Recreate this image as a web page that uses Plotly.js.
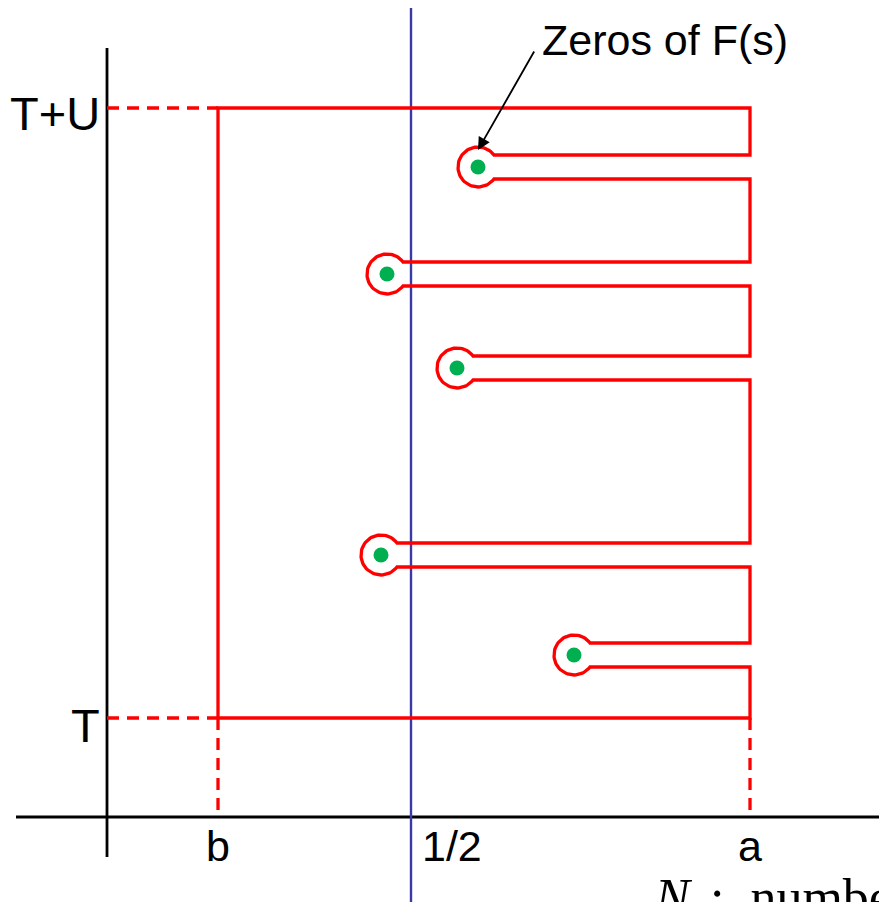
<!DOCTYPE html>
<html>
<head>
<meta charset="utf-8">
<script src="https://cdn.plot.ly/plotly-3.0.1.min.js"></script>
<style>html,body{margin:0;padding:0;background:#fff;overflow:hidden}#chart{width:879px;height:902px}</style>
</head>
<body>
<div id="chart"></div>
<script>
// ---- data (diagram coordinates; y grows downward) ----
const zerosX = [478, 387, 457, 381, 574];   // real parts of the zeros of F(s)
const zerosY = [167, 274, 368, 555, 655];   // imaginary parts (screen-down)
const xLabels = ["b", "1/2", "a"];
const xLabelPos = [218, 411, 750];
const yLabels = ["T+U", "T"];
const yLabelPos = [108, 718];
const originX = 107, originY = 817;          // axes origin
const xB = 218, xHalf = 411, xA = 750;
const yTop = 108, yBot = 718;

// ---- geometry of the contour ----
const R = 20, gap = 12;
const cx = [], cy = [];
function pt(x, y){ cx.push(x); cy.push(y); }
pt(xB, yBot); pt(xB, yTop); pt(xA, yTop);
const order = zerosY.map((v,i)=>i).sort((a,b)=>zerosY[a]-zerosY[b]);
const th0 = Math.asin(gap / R);
for (const i of order) {
  const zx = zerosX[i], zy = zerosY[i];
  const off = Math.sqrt(R*R - gap*gap);
  pt(xA, zy - gap); pt(zx + off, zy - gap);
  const start = -th0, end = -(2*Math.PI - th0);
  const n = 60;
  for (let k = 0; k <= n; k++) {
    const t = start + (end - start) * k / n;
    pt(zx + R*Math.cos(t), zy + R*Math.sin(t));
  }
  pt(zx + off, zy + gap); pt(xA, zy + gap);
}
pt(xA, yBot); pt(xB, yBot);

const red = "#ff0000";
const traces = [
  // axes
  {x:[originX, originX], y:[48, 857], mode:"lines", line:{color:"#000", width:2.8}},
  {x:[16, 879], y:[originY, originY], mode:"lines", line:{color:"#000", width:2.8}},
  // critical line
  {x:[xHalf, xHalf], y:[8, 902], mode:"lines", line:{color:"#3a3aa6", width:2.4}},
  // dashed guides
  {x:[originX, xB], y:[yTop, yTop], mode:"lines", line:{color:red, width:3.3, dash:"12px,8px"}},
  {x:[originX, xB], y:[yBot, yBot], mode:"lines", line:{color:red, width:3.3, dash:"12px,8px"}},
  {x:[xB, xB], y:[yBot, originY], mode:"lines", line:{color:red, width:3.3, dash:"12px,8px"}},
  {x:[xA, xA], y:[yBot, originY], mode:"lines", line:{color:red, width:3.3, dash:"12px,8px"}},
  // contour
  {x:cx, y:cy, mode:"lines", line:{color:red, width:3.3}},
  // zeros
  {x:zerosX, y:zerosY, mode:"markers", marker:{color:"#00b050", size:15}}
];
traces.forEach(t=>{t.hoverinfo="skip"; t.showlegend=false; t.type="scatter";});

const sans = "Liberation Sans, Arial, sans-serif";
const ann = [];
xLabels.forEach((s,i)=>ann.push({x: xLabelPos[i] + (s==="1/2"?41:0), y: 846, xref:"x", yref:"y", text:s, showarrow:false,
  xanchor:"center", yanchor:"middle", font:{family:sans, size:43, color:"#000"}}));
yLabels.forEach((s,i)=>ann.push({x: 102, y: yLabelPos[i] + (s==="T"?7:5), xref:"x", yref:"y", text:s, showarrow:false,
  xanchor:"right", yanchor:"middle", font:{family:sans, size:47, color:"#000"}}));
ann.push({x:478, y:150, xref:"x", yref:"y", ax:535, ay:50, axref:"x", ayref:"y", text:"", showarrow:true,
  arrowhead:2, arrowsize:1.4, arrowwidth:1.8, arrowcolor:"#000"});
ann.push({x:540, y:40, xref:"x", yref:"y", text:"Zeros of F(s)", showarrow:false, xanchor:"left", yanchor:"middle",
  font:{family:sans, size:43, color:"#000"}});
ann.push({x:652, y:867, xref:"x", yref:"y", text:"<i>N<sub>L</sub></i>:&nbsp;&nbsp;number of zeros", showarrow:false,
  xanchor:"left", yanchor:"top", font:{family:"Liberation Serif, DejaVu Serif, serif", size:52, color:"#000"}});

const layout = {
  width:879, height:902, margin:{l:0,r:0,t:0,b:0},
  paper_bgcolor:"#fff", plot_bgcolor:"#fff",
  xaxis:{range:[0,879], visible:false, fixedrange:true},
  yaxis:{range:[902,0], visible:false, fixedrange:true},
  annotations: ann, showlegend:false
};
Plotly.newPlot("chart", traces, layout, {staticPlot:true, displayModeBar:false});
</script>
</body>
</html>
